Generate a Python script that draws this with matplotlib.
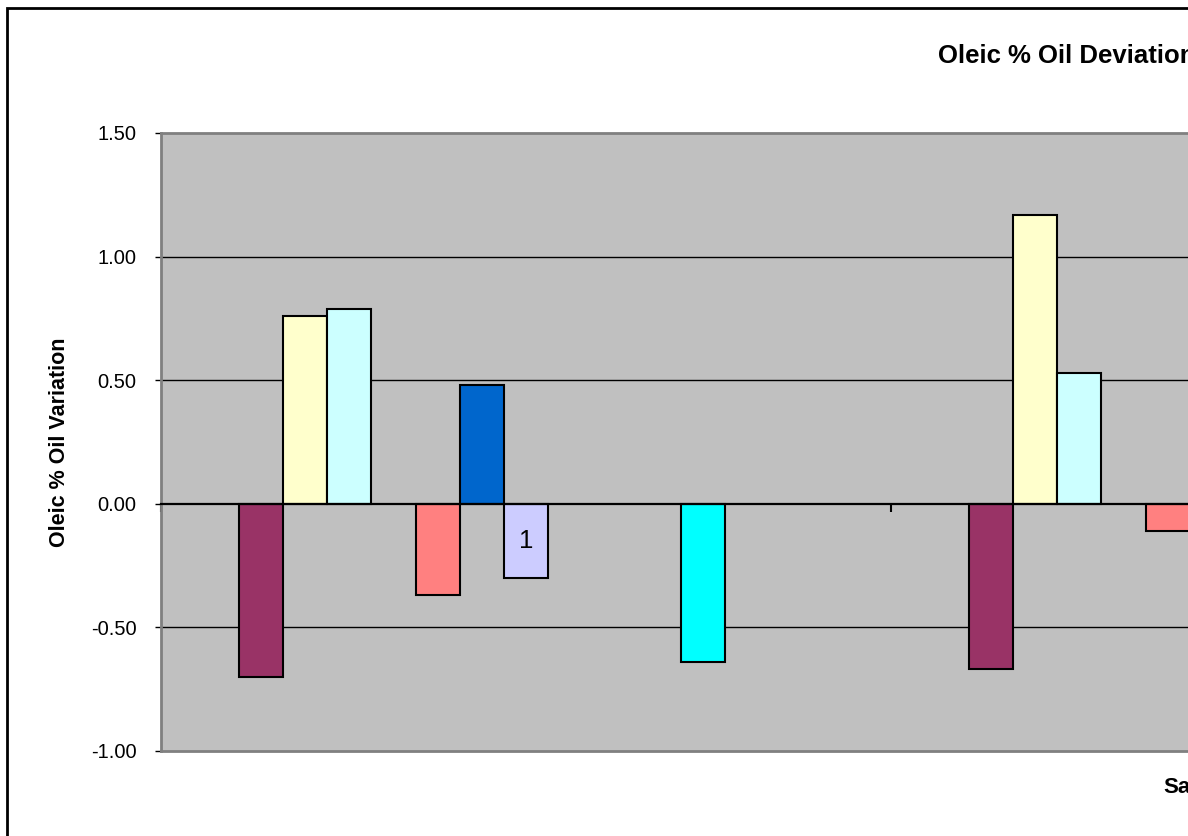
import numpy as np
import matplotlib.pyplot as plt
from matplotlib.patches import Rectangle

plt.rcParams['font.family'] = ['Liberation Sans', 'DejaVu Sans']

# two sample groups, 13 series each (Excel default palette order)
categories = ["1", "2"]
series_colors = ["#993366", "#FFFFCC", "#CCFFFF", "#660066", "#FF8080", "#0066CC",
                 "#CCCCFF", "#000080", "#FF00FF", "#FFFF00", "#00FFFF", "#800080", "#800000"]
nan = np.nan
values = [
    [-0.70, -0.67],
    [0.76, 1.17],
    [0.79, 0.53],
    [nan, nan],
    [-0.37, -0.11],
    [0.48, nan],
    [-0.30, nan],
    [nan, nan],
    [nan, nan],
    [nan, nan],
    [-0.64, nan],
    [nan, nan],
    [nan, nan],
]
point_labels = {6: ["1", ""]}
yticks = [-1.0, -0.5, 0.0, 0.5, 1.0, 1.5]

W, H = 1188, 836
fig = plt.figure(figsize=(W / 100, H / 100), dpi=100)

# plot area: left 161px, top 133px, bottom 751px; one category = 730px
left, top, bottom = 161, 133, 751
cat_px = 730
ax = fig.add_axes([left / W, 1 - bottom / H, cat_px * len(categories) / W, (bottom - top) / H])
ax.set_facecolor("#C0C0C0")

n = len(values)
bw = 44.2 / cat_px
x = np.arange(len(categories))
for j, (vals, col) in enumerate(zip(values, series_colors)):
    bars = ax.bar(x + (j - (n - 1) / 2) * bw, vals, bw, color=col,
                  edgecolor="black", linewidth=1.5, zorder=3)
    if j in point_labels:
        ax.bar_label(bars, labels=point_labels[j], label_type="center", fontsize=18.5)

ax.set_xlim(-0.5, len(categories) - 0.5)
ax.set_ylim(-1.0, 1.5)
ax.set_yticks(yticks)
ax.set_yticklabels([f"{v:.2f}" for v in yticks], fontsize=14.5)
ax.tick_params(axis="y", direction="out", length=4.5, width=1, color="black", pad=13)

for v in yticks:
    if v not in (-1.0, 0.0, 1.5):
        ax.axhline(v, color="black", linewidth=1, zorder=1)

# zero line acts as category axis
ax.spines["bottom"].set_position(("data", 0))
ax.spines["bottom"].set_color("black")
ax.spines["bottom"].set_linewidth(1.6)
ax.spines["bottom"].set_zorder(4)
ax.set_xticks(np.arange(len(categories) + 1) - 0.5)
ax.set_xticklabels([])
ax.tick_params(axis="x", direction="out", length=6, width=1.5, color="black")
ax.spines["right"].set_visible(False)
ax.spines["top"].set_color("#808080")
ax.spines["top"].set_linewidth(2)
ax.spines["left"].set_color("#808080")
ax.spines["left"].set_linewidth(2)
ax.axhline(-1.0, color="#808080", linewidth=2, clip_on=False, zorder=5)

ax.set_ylabel("Oleic % Oil Variation", fontsize=15.5, fontweight="bold")
ax.yaxis.set_label_coords((70 - left) / (cat_px * len(categories)), 0.5)

fig.text(938 / W, 1 - 56 / H, "Oleic % Oil Deviation", fontsize=18.5, fontweight="bold",
         ha="left", va="center")
fig.text(1163 / W, 1 - 787 / H, "Sample", fontsize=16, fontweight="bold",
         ha="left", va="center")

fig.patches.append(Rectangle((7 / W, -0.1), 1.2, 1.1 - 8 / H, transform=fig.transFigure,
                             fill=False, edgecolor="black", linewidth=2))

fig.savefig("out.png", dpi=100)
